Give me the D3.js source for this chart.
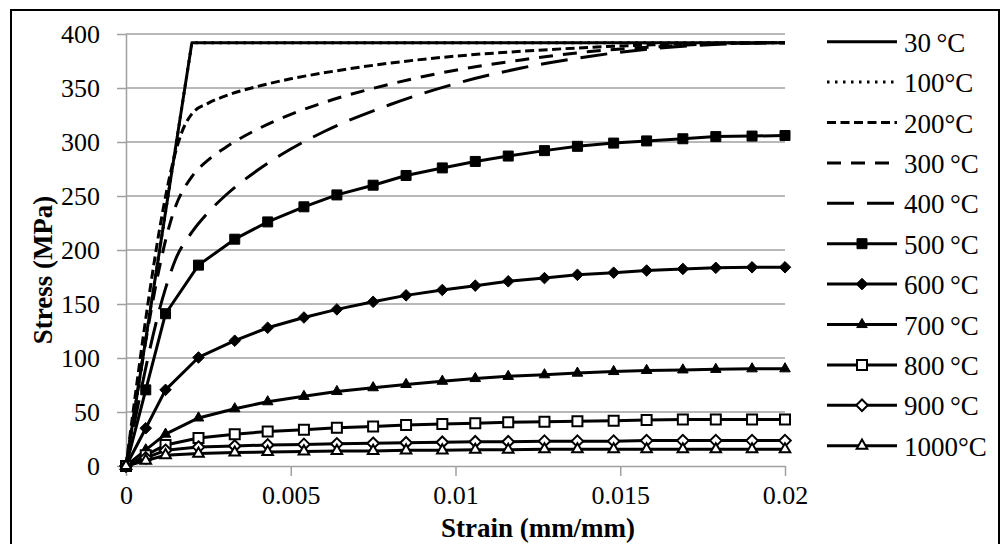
<!DOCTYPE html>
<html lang="en">
<head>
  <meta charset="UTF-8" />
  <title>Stress-strain curves at elevated temperature</title>
  <script src="https://d3js.org/d3.v7.min.js"></script>
  <style>
    body { margin: 0; background: #fff; }
    svg text { font-family: "Liberation Serif", Tinos, "Times New Roman", Times, "Noto Serif", "DejaVu Serif", FreeSerif, serif; fill: #000; }
    .grid line { stroke: #a0a0a0; stroke-width: 1.5; }
    .axis path, .axis line { stroke: #a0a0a0; stroke-width: 1.5; }
    .axis text { font-size: 26px; }
    .title { font-size: 27px; font-weight: bold; }
    .legend text { font-size: 27px; }
  </style>
</head>
<body>
  <svg id="chart" width="1002" height="544"></svg>

  <script>
    // series names shown in the legend
    const labels = ["30\u2009°C", "100°C", "200°C", "300\u2009°C", "400\u2009°C", "500\u2009°C",
                    "600\u2009°C", "700\u2009°C", "800\u2009°C", "900\u2009°C", "1000°C"];

    // line-only curves (strain, stress)
    const strain30 = [0, 0.002, 0.02];
    const stress30 = [0, 392, 392];
    const strain100 = [0, 0.002, 0.02];
    const stress100 = [0, 392, 392];
    const strain200 = [0, 0.0018, 0.002, 0.0025, 0.003, 0.004, 0.005, 0.006, 0.008, 0.01, 0.012, 0.014, 0.016, 0.018, 0.02];
    const stress200 = [0, 316.5, 326, 336, 342.5, 351.5, 358.5, 364, 373, 379.5, 384, 387.5, 390, 391.5, 392];
    const strain300 = [0, 0.0015, 0.002, 0.0025, 0.003, 0.004, 0.005, 0.006, 0.008, 0.01, 0.012, 0.014, 0.016, 0.018, 0.02];
    const stress300 = [0, 240, 268, 283.5, 294.5, 312, 325.5, 336.5, 353.5, 366.5, 376, 383.5, 388, 391, 392];
    const strain400 = [0, 0.0012, 0.0015, 0.002, 0.0025, 0.003, 0.004, 0.005, 0.006, 0.008, 0.01, 0.012, 0.014, 0.016, 0.018, 0.02];
    const stress400 = [0, 164.5, 191, 216.5, 235, 250, 274, 293.5, 309.5, 334.5, 354, 368.5, 379, 386.5, 390.5, 392];

    // marker curves share one strain grid
    const strainGrid = [0, 0.0006, 0.0012, 0.0022, 0.0033, 0.0043, 0.0054, 0.0064, 0.0075, 0.0085, 0.0096,
                        0.0106, 0.0116, 0.0127, 0.0137, 0.0148, 0.0158, 0.0169, 0.0179, 0.019, 0.02];
    const stress500 = [0, 70.5, 141, 186, 210, 226, 240, 251, 260, 269, 276, 282, 287, 292, 296, 299, 301, 303, 305, 305.5, 306];
    const stress600 = [0, 35, 70.5, 100.5, 116, 128, 137.5, 145, 152, 158, 163, 167, 171, 174, 177, 179, 181, 182.5, 183.5, 184, 184];
    const stress700 = [0, 15, 29.5, 44.5, 53, 59.5, 64.5, 69, 72.5, 75.5, 78.5, 81, 83, 84.5, 86, 87.5, 88.5, 89, 89.5, 90, 90];
    const stress800 = [0, 10, 19.5, 26, 29.5, 32, 33.5, 35.5, 36.5, 38, 39, 39.5, 40.5, 41, 41.5, 42, 42.5, 43, 43, 43, 43];
    const stress900 = [0, 7.5, 14.5, 17.5, 18.5, 19.5, 20, 20.5, 21, 21.5, 22, 22.5, 22.5, 23, 23, 23, 23.5, 23.5, 23.5, 23.5, 23.5];
    const stress1000 = [0, 5, 10, 11.5, 12.5, 13, 13.5, 14, 14, 14.5, 14.5, 15, 15, 15.5, 15.5, 15.5, 15.5, 15.5, 15.5, 15.5, 15.5];

    const xTicks = [0, 0.005, 0.01, 0.015, 0.02];
    const xTickLabels = ["0", "0.005", "0.01", "0.015", "0.02"];
    const yTicks = [0, 50, 100, 150, 200, 250, 300, 350, 400];

    const zip = (xs, ys) => xs.map((x, i) => [x, ys[i]]);

    const series = [
      { pts: zip(strain30, stress30), dash: null, marker: null, smooth: false },
      { pts: zip(strain100, stress100), dash: "2.5,5.5", marker: null, smooth: false },
      { pts: zip(strain200, stress200), dash: "9,4.5", marker: null, smooth: true },
      { pts: zip(strain300, stress300), dash: "14,10", marker: null, smooth: true },
      { pts: zip(strain400, stress400), dash: "27,13", marker: null, smooth: true },
      { pts: zip(strainGrid, stress500), dash: null, marker: "square", fill: "#000" },
      { pts: zip(strainGrid, stress600), dash: null, marker: "diamond", fill: "#000" },
      { pts: zip(strainGrid, stress700), dash: null, marker: "triangle", fill: "#000" },
      { pts: zip(strainGrid, stress800), dash: null, marker: "square", fill: "#fff" },
      { pts: zip(strainGrid, stress900), dash: null, marker: "diamond", fill: "#fff" },
      { pts: zip(strainGrid, stress1000), dash: null, marker: "triangle", fill: "#fff" }
    ];

    const svg = d3.select("#chart");

    // outer frame
    svg.append("rect")
      .attr("x", 11).attr("y", 10)
      .attr("width", 988).attr("height", 545)
      .attr("fill", "none").attr("stroke", "#000").attr("stroke-width", 2);

    const x = d3.scaleLinear().domain([0, 0.02]).range([126, 785]);
    const y = d3.scaleLinear().domain([0, 400]).range([466, 34]);

    // horizontal gridlines
    svg.append("g").attr("class", "grid")
      .selectAll("line")
      .data(yTicks.filter(d => d > 0))
      .join("line")
      .attr("x1", x(0)).attr("x2", x(0.02))
      .attr("y1", d => y(d)).attr("y2", d => y(d));

    const yAxis = svg.append("g").attr("class", "axis")
      .attr("transform", `translate(${x(0)},0)`)
      .call(d3.axisLeft(y).tickValues(yTicks).tickSize(9).tickSizeOuter(0).tickPadding(17));
    yAxis.attr("font-family", null);
    yAxis.selectAll("text").attr("dy", "0.34em");

    const xAxis = svg.append("g").attr("class", "axis")
      .attr("transform", `translate(0,${y(0)})`)
      .call(d3.axisBottom(x).tickValues(xTicks).tickFormat((d, i) => xTickLabels[i])
        .tickSize(10).tickSizeOuter(0));
    xAxis.attr("font-family", null);
    xAxis.selectAll("text").attr("y", 38).attr("dy", 0);

    const symbolFor = {
      square: d3.symbol().type(d3.symbolSquare).size(100),
      diamond: d3.symbol().type(d3.symbolDiamond2).size(85),
      triangle: d3.symbol().type(d3.symbolTriangle2).size(80)
    };

    const plot = svg.append("g");
    series.forEach(s => {
      const line = d3.line()
        .x(d => x(d[0])).y(d => y(d[1]))
        .curve(s.smooth ? d3.curveMonotoneX : d3.curveLinear);
      plot.append("path")
        .datum(s.pts)
        .attr("d", line)
        .attr("fill", "none")
        .attr("stroke", "#000")
        .attr("stroke-width", 3)
        .attr("stroke-linejoin", "round")
        .attr("stroke-dasharray", s.dash);
      if (s.marker) {
        plot.append("g")
          .selectAll("path")
          .data(s.pts)
          .join("path")
          .attr("transform", d => `translate(${x(d[0])},${y(d[1])})`)
          .attr("d", symbolFor[s.marker]())
          .attr("fill", s.fill)
          .attr("stroke", "#000")
          .attr("stroke-width", s.fill === "#fff" ? 2 : 1);
      }
    });

    // legend
    const legend = svg.append("g").attr("class", "legend");
    series.forEach((s, i) => {
      const ly = 41.7 + i * 40.4;
      const row = legend.append("g");
      row.append("line")
        .attr("x1", 827).attr("x2", 897).attr("y1", ly).attr("y2", ly)
        .attr("stroke", "#000").attr("stroke-width", 3)
        .attr("stroke-dasharray", s.dash);
      if (s.marker) {
        row.append("path")
          .attr("transform", `translate(862,${ly})`)
          .attr("d", symbolFor[s.marker]())
          .attr("fill", s.fill)
          .attr("stroke", "#000")
          .attr("stroke-width", s.fill === "#fff" ? 2 : 1);
      }
      row.append("text")
        .attr("x", 904).attr("y", ly + 10)
        .text(labels[i]);
    });

    // axis titles
    svg.append("text").attr("class", "title")
      .attr("x", 538).attr("y", 537)
      .attr("text-anchor", "middle")
      .text("Strain (mm/mm)");

    svg.append("text").attr("class", "title")
      .attr("transform", "translate(52,270) rotate(-90)")
      .attr("text-anchor", "middle")
      .text("Stress (MPa)");
  </script>
</body>
</html>
